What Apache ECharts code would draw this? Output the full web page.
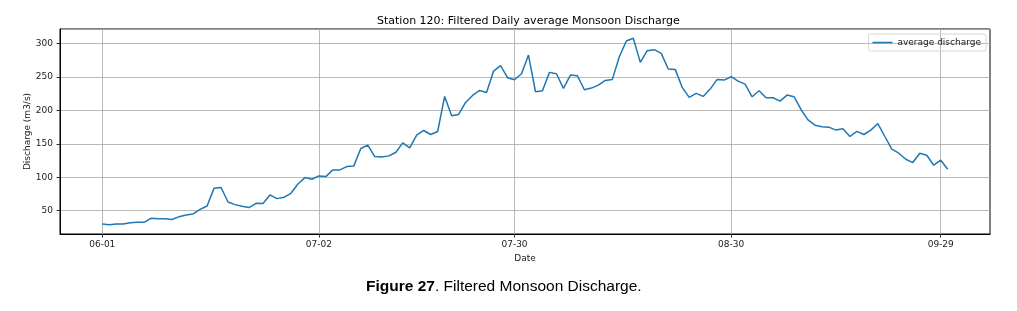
<!DOCTYPE html>
<html>
<head>
<meta charset="utf-8">
<script src="https://cdn.jsdelivr.net/npm/echarts@6/dist/echarts.min.js"></script>
<style>
html,body{margin:0;padding:0;background:#fff;}
#main{width:1017px;height:311px;}
</style>
</head>
<body>
<div id="main"></div>
<script>
// daily discharge from 06-01 to 09-30
var firstDay = '2019-06-01';
var discharge = [
    30,29,30,30,32,32.5,32.5,38.8,37.8,37.8,36.8,41,43.4,45,52,57,83.7,84.7,63,59,56.6,54.6,61,60.7,73.5,
    68,70,76,90,99.5,97,102,101,111,111,116,117,143,148,131,130.4,132,137,151.5,144,163,170,164,168.5,
    221,192,194,212,222.5,230,227,259,267,249,246,255,283,228,229.5,257,255,233,253,252,231,233.5,238,245,
    246.5,280.5,304,308,272,289.5,291,285.5,262,261.5,234.5,219.5,225.5,221,232,246.5,245.5,250.5,244,239.5,220.5,229.5,219,219,214,
    223,220.6,201.5,186,178,175.5,175,170.6,172.6,161,168.6,164,170.6,180.4,161,142,136,127,122,136,133,118,125.5,112
];
// x tick labels
var xTicks = ['06-01','07-02','07-30','08-30','09-29'];

var DAY = 24 * 3600 * 1000;
var year = +firstDay.slice(0, 4);
function toTime(mmdd) {
    var p = mmdd.split('-');
    return Date.UTC(year, +p[0] - 1, +p[1]);
}
var t0 = toTime(firstDay.slice(5));
// x is counted in days from the first day
function dayOf(mmdd) { return Math.round((toTime(mmdd) - t0) / DAY); }
function labelOf(d) {
    var dt = new Date(t0 + d * DAY);
    return ('0' + (dt.getUTCMonth() + 1)).slice(-2) + '-' + ('0' + dt.getUTCDate()).slice(-2);
}
var points = discharge.map(function (v, i) { return [i, v]; });
var tickDays = xTicks.map(dayOf);
var span = discharge.length - 1;

var chart = echarts.init(document.getElementById('main'));
var option = {
    animation: false,
    title: {
        text: 'Station 120: Filtered Daily average Monsoon Discharge',
        left: 372,
        top: 11,
        textStyle: {fontFamily: 'DejaVu Sans', fontSize: 11, fontWeight: 'normal', color: '#000'}
    },
    legend: {
        data: ['average discharge'],
        icon: 'rect',
        right: 31,
        top: 34,
        padding: [4, 5, 4, 4],
        itemWidth: 20,
        itemHeight: 1.5,
        itemGap: 8,
        borderColor: '#d5d5d5',
        borderWidth: 1,
        borderRadius: 2,
        textStyle: {fontFamily: 'DejaVu Sans', fontSize: 9, color: '#222'}
    },
    grid: {
        left: 60, top: 29, right: 27, bottom: 77,
        show: true, borderColor: '#000', borderWidth: 1
    },
    xAxis: {
        type: 'value',
        min: -0.05 * span,
        max: 1.05 * span,
        name: 'Date',
        nameLocation: 'middle',
        nameGap: 18,
        nameTextStyle: {fontFamily: 'DejaVu Sans', fontSize: 9, color: '#222'},
        axisLine: {onZero: false, lineStyle: {color: '#000'}},
        axisTick: {show: true, length: 3.5, customValues: tickDays, lineStyle: {color: '#333'}},
        axisLabel: {
            customValues: tickDays,
            margin: 6,
            fontFamily: 'DejaVu Sans', fontSize: 9, color: '#222',
            formatter: labelOf
        },
        splitLine: {show: true, lineStyle: {color: '#a8a8a8', width: 0.8}}
    },
    yAxis: {
        type: 'value',
        min: function (v) { return v.min - 0.05 * (v.max - v.min); },
        max: function (v) { return v.max + 0.05 * (v.max - v.min); },
        splitNumber: 6,
        name: 'Discharge (m3/s)',
        nameLocation: 'middle',
        nameGap: 28,
        nameMoveOverlap: false,
        nameTextStyle: {fontFamily: 'DejaVu Sans', fontSize: 9, color: '#222'},
        axisLine: {show: true, onZero: false, lineStyle: {color: '#000'}},
        axisTick: {show: true, length: 3.5, lineStyle: {color: '#333'}},
        axisLabel: {
            showMinLabel: false, showMaxLabel: false,
            margin: 7,
            fontFamily: 'DejaVu Sans', fontSize: 9, color: '#222'
        },
        splitLine: {show: true, lineStyle: {color: '#a8a8a8', width: 0.8}}
    },
    series: [{
        name: 'average discharge',
        type: 'line',
        symbol: 'none',
        data: points,
        lineStyle: {color: '#1f77b4', width: 1.5},
        itemStyle: {color: '#1f77b4'}
    }],
    graphic: [{
        type: 'text',
        left: 366,
        top: 279,
        style: {
            text: '{b|Figure 27}. Filtered Monsoon Discharge.',
            fontFamily: 'Liberation Sans',
            fontSize: 15.5,
            fill: '#000',
            rich: {b: {fontWeight: 'bold', fontFamily: 'Liberation Sans', fontSize: 15.5}}
        }
    }]
};
chart.setOption(option);
</script>
</body>
</html>
